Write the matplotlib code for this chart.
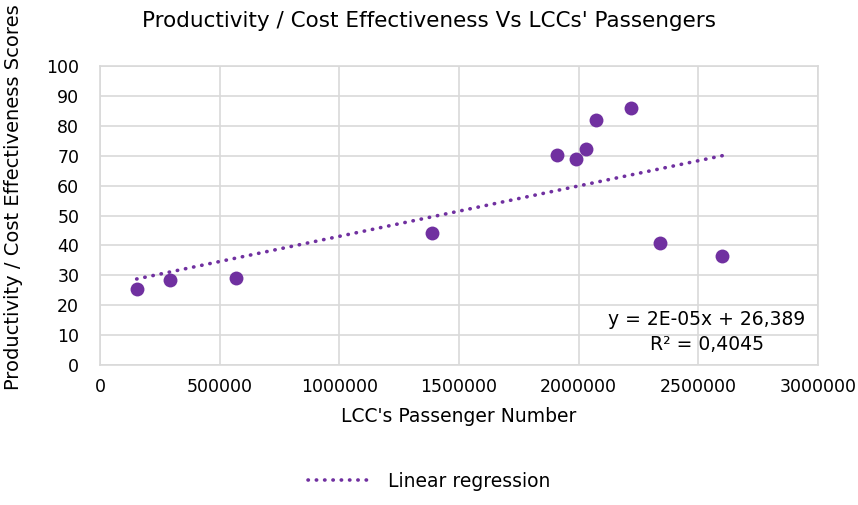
"""Scatter of productivity / cost effectiveness scores against LCC passengers."""

import matplotlib

matplotlib.use("Agg")
import matplotlib.pyplot as plt
import numpy as np

passengers = [153000, 291600, 567000, 1388800, 1911000, 1988400,
              2031000, 2072000, 2217000, 2339000, 2600000]
scores = [25.5, 28.5, 29.2, 44.3, 70.4, 68.8, 72.4, 82.0, 85.8, 40.8, 36.3]
x_ticks = [0, 500000, 1000000, 1500000, 2000000, 2500000, 3000000]
y_ticks = [0, 10, 20, 30, 40, 50, 60, 70, 80, 90, 100]
equation = "y = 2E-05x + 26,389\nR² = 0,4045"

PURPLE = "#7030A0"
GRID = "#D9D9D9"
TEXT = "#000000"

plt.rcParams["font.family"] = ["DejaVu Sans"]

fig = plt.figure(figsize=(8.58, 5.05), dpi=100)
ax = fig.add_axes([0.1166, 0.2772, 0.8368, 0.5921])

x = np.asarray(passengers, dtype=float)
y = np.asarray(scores, dtype=float)

ax.scatter(x, y, s=100, color=PURPLE, zorder=3, linewidths=0)

# Linear trend line over the data range
slope, intercept = np.polyfit(x, y, 1)
xs = np.array([x.min(), x.max()])
ax.plot(xs, slope * xs + intercept, color=PURPLE, lw=2.6,
        linestyle=(0, (0.1, 2.2)), dash_capstyle="round", zorder=2,
        label="Linear regression")

ax.text(2.535e6, 3.6, equation, ha="center", va="bottom",
        fontsize=13.5, color=TEXT, linespacing=1.4)

ax.set_xlim(0, 3000000)
ax.set_ylim(0, 100)
ax.set_xticks(x_ticks)
ax.set_xticklabels([str(v) for v in x_ticks])
ax.set_yticks(y_ticks)
ax.grid(True, color=GRID, lw=1.2)
ax.set_axisbelow(True)
for sp in ax.spines.values():
    sp.set_color(GRID)
    sp.set_linewidth(1.2)
ax.tick_params(length=0, labelsize=12.5, colors=TEXT)
ax.tick_params(axis="y", pad=15)
ax.tick_params(axis="x", pad=9)

ax.set_xlabel("LCC's Passenger Number", fontsize=13.5, labelpad=8)
ax.set_ylabel("Productivity / Cost Effectiveness Scores", fontsize=14)
ax.yaxis.set_label_coords(-0.108, 0.56)
fig.suptitle("Productivity / Cost Effectiveness Vs LCCs' Passengers",
             fontsize=15.5, x=0.5, y=0.978)

fig.legend(loc="lower center", bbox_to_anchor=(0.5, -0.005), frameon=False,
           fontsize=13.5, handlelength=3.5)

fig.savefig("out.png", dpi=100)
plt.close(fig)
